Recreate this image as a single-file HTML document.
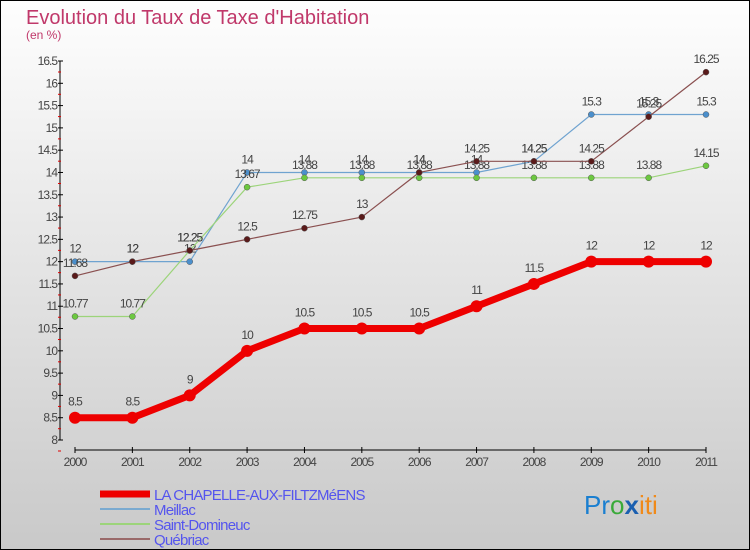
<!DOCTYPE html>
<html><head><meta charset="utf-8"><style>
body{margin:0;}
#c{position:relative;width:750px;height:550px;box-sizing:border-box;border:1px solid #000;background:linear-gradient(#fefefe,#c9c9c9);font-family:"Liberation Sans",sans-serif;overflow:hidden}
</style></head><body>
<div id="c">
<svg id="s" width="750" height="550" style="position:absolute;left:-1px;top:-1px">
<text x="26" y="24" font-size="20" fill="#c0386a" font-weight="300">Evolution du Taux de Taxe d'Habitation</text>
<text x="26" y="39" font-size="12" fill="#c0386a">(en %)</text>
<text x="584" y="514" font-size="26"><tspan fill="#1a7fd0">Pr</tspan><tspan fill="#3aaa3a">o</tspan><tspan fill="#1a5fb0" font-weight="bold">x</tspan><tspan fill="#f08a1a">iti</tspan></text>
</svg>
</div>
<script>
const years=[2000,2001,2002,2003,2004,2005,2006,2007,2008,2009,2010,2011];
const yTicks=[8,8.5,9,9.5,10,10.5,11,11.5,12,12.5,13,13.5,14,14.5,15,15.5,16,16.5];
const seriesNames=["LA CHAPELLE-AUX-FILTZMéENS","Meillac","Saint-Domineuc","Québriac"];
const chapelle=[8.5,8.5,9,10,10.5,10.5,10.5,11,11.5,12,12,12];
const meillac=[12,12,12,14,14,14,14,14,14.25,15.3,15.3,15.3];
const domineuc=[10.77,10.77,12.25,13.67,13.88,13.88,13.88,13.88,13.88,13.88,13.88,14.15];
const quebriac=[11.68,12,12.25,12.5,12.75,13,14,14.25,14.25,14.25,15.25,16.25];
const NS="http://www.w3.org/2000/svg",s=document.getElementById('s');
const X=i=>75+i*(631/11),Y=v=>440-(v-8)*(379/8.5);
function el(t,a,p){const e=document.createElementNS(NS,t);for(const k in a)e.setAttribute(k,a[k]);(p||s).appendChild(e);return e;}
let ya=el('line',{x1:60,y1:Y(16.5),x2:60,y2:Y(8),stroke:'#000'});


let xa=el('line',{x1:75,y1:450,x2:706,y2:450,stroke:'#000'});


yTicks.forEach(v=>{el('line',{x1:58,x2:63,y1:Y(v),y2:Y(v),stroke:'#000'});
el('line',{x1:58,x2:61,y1:Y(v)+11,y2:Y(v)+11,stroke:'#d00'});
const t=el('text',{x:57,y:Y(v)+4,'text-anchor':'end','font-size':12,fill:'#444','letter-spacing':'-1'});t.textContent=v;

});
years.forEach((y,i)=>{el('line',{x1:X(i),x2:X(i),y1:447,y2:453,stroke:'#000'});
const t=el('text',{x:X(i),y:466,'text-anchor':'middle','font-size':12,fill:'#444','letter-spacing':'-1'});t.textContent=y;

});
const defs=[[meillac,'#6fa3d0','#4b8fcc',1.2,3,'meillac'],[domineuc,'#9cd47a','#6cc840',1.2,3,'saint-domineuc'],[quebriac,'#8a5050','#5a1a1a',1.2,3,'quebriac'],[chapelle,'#ee0000','#ee0000',7,6,'la-chapelle']];
defs.forEach(([d,lc,pc,w,r,n])=>{
const p=el('polyline',{points:d.map((v,i)=>X(i)+','+Y(v)).join(' '),fill:'none',stroke:lc,'stroke-width':w});


d.forEach((v,i)=>{const c=el('circle',{cx:X(i),cy:Y(v),r:r,fill:pc,stroke:r<4?'#555':'none','stroke-width':0.5});


const t=el('text',{x:X(i),y:Y(v)-(r<4?9:12),'text-anchor':'middle','font-size':12,fill:'#444','letter-spacing':'-1'});t.textContent=v;

});});
const lc=[['#ee0000',7],['#7aaad0',2],['#9cd47a',2],['#9a6a6a',2]];
seriesNames.forEach((nm,i)=>{const y=494+i*15;
const l=el('line',{x1:100,x2:150,y1:y,y2:y,stroke:lc[i][0],'stroke-width':lc[i][1]});


const t=el('text',{x:154,y:y+6,'font-size':15,fill:'#5555ee','letter-spacing':'-0.8'});t.textContent=nm;

});
</script>
</body></html>
